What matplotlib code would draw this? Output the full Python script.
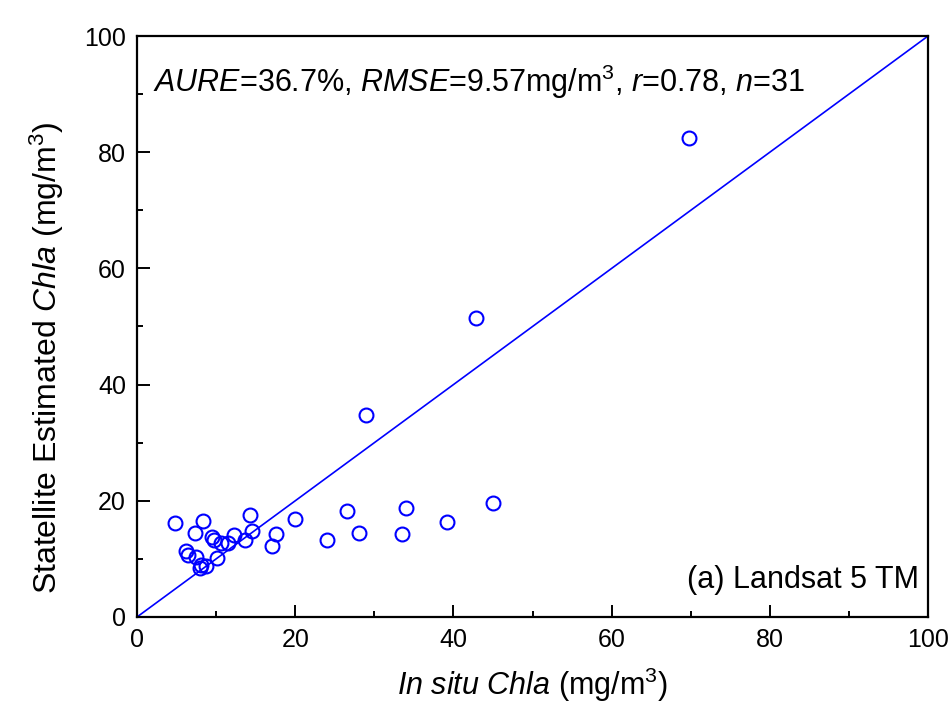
import matplotlib
matplotlib.use("Agg")
import matplotlib.pyplot as plt
from matplotlib.ticker import MultipleLocator

plt.rcParams['font.family'] = ['Liberation Sans', 'DejaVu Sans']
plt.rcParams['mathtext.fontset'] = 'custom'
plt.rcParams['mathtext.rm'] = 'Liberation Sans'
plt.rcParams['mathtext.it'] = 'Liberation Sans:italic'
plt.rcParams['mathtext.default'] = 'regular'

# In situ vs. satellite-estimated Chla (mg/m^3)
in_situ = [4.8, 8.4, 7.3, 6.2, 6.5, 7.5, 7.9, 8.7, 9.5, 9.7, 10.1, 10.6, 11.5,
           12.3, 13.7, 14.3, 14.5, 17.0, 17.6, 20.0, 24.0, 26.5, 28.0, 34.0,
           33.5, 39.2, 45.0, 29.0, 42.8, 69.8, 8.1]
estimated = [16.2, 16.6, 14.4, 11.4, 10.7, 10.4, 8.5, 8.8, 13.8, 13.2, 10.1,
             12.7, 12.7, 14.1, 13.2, 17.6, 14.8, 12.2, 14.2, 16.9, 13.3, 18.3,
             14.5, 18.8, 14.2, 16.4, 19.6, 34.7, 51.5, 82.4, 8.9]

x_ticks = [0, 20, 40, 60, 80, 100]
y_ticks = [0, 20, 40, 60, 80, 100]

fig = plt.figure(figsize=(9.53, 7.16), dpi=100)
ax = fig.add_axes([0.1438, 0.1383, 0.8300, 0.8114])

ax.plot([0, 100], [0, 100], color='#0000ff', lw=1.2, zorder=2)
ax.plot(in_situ, estimated, linestyle='none', marker='o', ms=10,
        mfc='none', mec='#0000ff', mew=1.5, zorder=3)

ax.set_xlim(0, 100)
ax.set_ylim(0, 100)
ax.set_xticks(x_ticks)
ax.set_yticks(y_ticks)
ax.xaxis.set_minor_locator(MultipleLocator(10))
ax.yaxis.set_minor_locator(MultipleLocator(10))
ax.tick_params(which='both', direction='in', top=False, right=False,
               width=1.4, labelsize=18, color='black')
ax.tick_params(which='major', length=9, pad=8)
ax.tick_params(which='minor', length=4.5)
for s in ax.spines.values():
    s.set_linewidth(1.6)

ax.set_xlabel(r'$\mathit{In\ situ\ Chla}$ (mg/m$^3$)', fontsize=22, labelpad=10)
ax.set_ylabel(r'Statellite Estimated $\mathit{Chla}$ (mg/m$^3$)', fontsize=23)
ax.yaxis.set_label_coords(-0.090, 0.446)

ax.text(0.02, 0.921,
        r'$\mathit{AURE}$=36.7%, $\mathit{RMSE}$=9.57mg/m$^3$, '
        r'$\mathit{r}$=0.78, $\mathit{n}$=31',
        transform=ax.transAxes, fontsize=22, va='center', ha='left')
ax.text(0.988, 0.064, '(a) Landsat 5 TM', transform=ax.transAxes,
        fontsize=22, va='center', ha='right')

fig.savefig('out.png', dpi=100, facecolor='white')
